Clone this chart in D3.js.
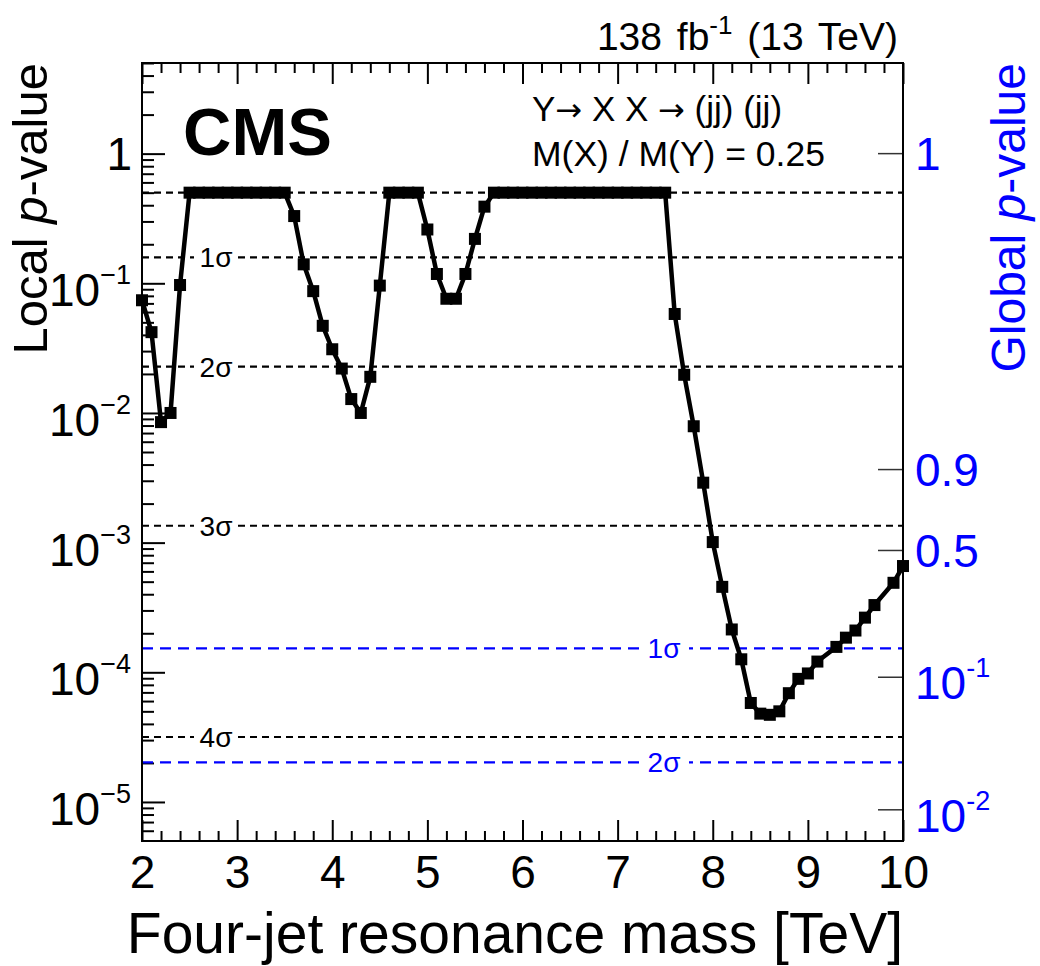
<!DOCTYPE html>
<html>
<head>
<meta charset="utf-8">
<script src="https://cdn.jsdelivr.net/npm/d3@7"></script>
<style>
  body { margin: 0; background: #fff; }
  svg { display: block; font-family: "Liberation Sans", Arial, Helvetica, sans-serif; }
</style>
</head>
<body>
<svg id="chart" width="1040" height="966"></svg>
<script>
// dados (massa em TeV, p-value local)
const mass = [2.0, 2.1, 2.2, 2.3, 2.4, 2.5, 2.6, 2.7, 2.8, 2.9, 3.0, 3.1, 3.2, 3.3, 3.4, 3.5,
  3.6, 3.7, 3.8, 3.9, 4.0, 4.1, 4.2, 4.3, 4.4, 4.5, 4.6, 4.7, 4.8, 4.9,
  5.0, 5.1, 5.2, 5.3, 5.4, 5.5, 5.6, 5.7, 5.8, 5.9, 6.0, 6.1, 6.2, 6.3, 6.4, 6.5, 6.6,
  6.7, 6.8, 6.9, 7.0, 7.1, 7.2, 7.3, 7.4, 7.5, 7.6, 7.7, 7.8, 7.9, 8.0, 8.1, 8.2, 8.3,
  8.4, 8.5, 8.6, 8.7, 8.8, 8.9, 9.0, 9.1, 9.3, 9.4, 9.5, 9.6, 9.7, 9.9, 10.0];
const localP = [0.074, 0.042, 0.0085, 0.010, 0.097, 0.5, 0.5, 0.5, 0.5, 0.5, 0.5, 0.5, 0.5, 0.5, 0.5, 0.5,
  0.33, 0.14, 0.087, 0.047, 0.031, 0.022, 0.0128, 0.0100, 0.019, 0.096, 0.5, 0.5, 0.5, 0.5,
  0.26, 0.118, 0.076, 0.076, 0.118, 0.22, 0.39, 0.5, 0.5, 0.5, 0.5, 0.5, 0.5, 0.5, 0.5, 0.5, 0.5,
  0.5, 0.5, 0.5, 0.5, 0.5, 0.5, 0.5, 0.5, 0.5, 0.058, 0.0197, 0.0079, 0.0029, 0.00101, 0.000456, 0.000214, 0.000126,
  5.8e-5, 4.8e-5, 4.7e-5, 5.0e-5, 6.9e-5, 8.9e-5, 9.8e-5, 1.21e-4, 1.57e-4, 1.85e-4, 2.1e-4, 2.64e-4, 3.3e-4, 4.9e-4, 6.6e-4];

// linhas de significância local (pretas) e global (azuis)
const localSigmaP = [0.5, 0.1587, 0.02275, 0.00135, 3.17e-5];
const localSigmaLabel = ["", "1σ", "2σ", "3σ", "4σ"];
const globalSigmaP = [1.53e-4, 2.02e-5];
const globalSigmaLabel = ["1σ", "2σ"];

// eixo da direita: p-value global, posicionado no p-value local equivalente
const globalTickAt = [1, 3.66e-3, 8.7e-4, 9.16e-5, 8.7e-6];
const globalTickBase = ["1", "0.9", "0.5", "10", "10"];
const globalTickExp = ["", "", "", "-1", "-2"];

// ticks
const xMajor = [2, 3, 4, 5, 6, 7, 8, 9, 10];
const yDecades = [0, -1, -2, -3, -4, -5];

// dimensões
const L = 142, T = 63, W = 761, H = 778;
const FONT_TICK = 46, FONT_EXP = 27;

const $svg = d3.select('#chart');

const x = d3.scaleLinear().domain([2, 10]).range([L, L + W]);
const y = d3.scaleLog().domain([5e-6, 5]).range([T + H, T]);

// minor ticks do eixo x (a cada 0.2)
const xMinor = d3.range(20, 101, 2).map(v => v / 10).filter(v => !xMajor.includes(v));
// minor ticks log
const yMinor = [];
yDecades.concat([-6]).forEach(e => {
  for (let k = 2; k <= 9; k++) {
    const v = k * Math.pow(10, e);
    if (v >= 5e-6 && v <= 5) yMinor.push(v);
  }
});

function cleanAxis(g) {
  g.select('.domain').remove();
  g.selectAll('line').attr('stroke', '#000').attr('stroke-width', 2);
}

// eixo de baixo
$svg.append('g')
  .attr('transform', `translate(0,${T + H})`)
  .call(d3.axisBottom(x).tickValues(xMajor).tickSize(-21).tickPadding(14).tickFormat(d3.format('d')))
  .call(cleanAxis)
  .call(g => g.selectAll('text').attr('font-size', FONT_TICK).attr('font-family', null).attr('fill', '#000'));
$svg.append('g')
  .attr('transform', `translate(0,${T + H})`)
  .call(d3.axisBottom(x).tickValues(xMinor).tickSize(-10).tickFormat(''))
  .call(cleanAxis);

// eixo de cima (só ticks)
$svg.append('g')
  .attr('transform', `translate(0,${T})`)
  .call(d3.axisTop(x).tickValues(xMajor).tickSize(-21).tickFormat(''))
  .call(cleanAxis);
$svg.append('g')
  .attr('transform', `translate(0,${T})`)
  .call(d3.axisTop(x).tickValues(xMinor).tickSize(-10).tickFormat(''))
  .call(cleanAxis);

// eixo da esquerda
$svg.append('g')
  .attr('transform', `translate(${L},0)`)
  .call(d3.axisLeft(y).tickValues(yDecades.map(e => Math.pow(10, e))).tickSize(-23).tickFormat(''))
  .call(cleanAxis);
$svg.append('g')
  .attr('transform', `translate(${L},0)`)
  .call(d3.axisLeft(y).tickValues(yMinor).tickSize(-12).tickFormat(''))
  .call(cleanAxis);

// rótulos do eixo da esquerda com expoente
yDecades.forEach(e => {
  const yy = y(Math.pow(10, e));
  if (e === 0) {
    $svg.append('text').attr('x', 132).attr('y', yy + 16.5)
      .attr('text-anchor', 'end').attr('font-size', FONT_TICK).text('1');
  } else {
    const t = $svg.append('text').attr('x', 131).attr('y', yy + 23)
      .attr('text-anchor', 'end').attr('font-size', FONT_TICK);
    t.append('tspan').text('10');
    t.append('tspan').attr('font-size', FONT_EXP).attr('dy', -22).text('\u2212' + (-e));
  }
});

// eixo da direita (global)
globalTickAt.forEach((p, i) => {
  const yy = y(p);
  $svg.append('line')
    .attr('x1', L + W - 25).attr('x2', L + W)
    .attr('y1', yy).attr('y2', yy)
    .attr('stroke', '#333').attr('stroke-width', 1.5);
  if (globalTickExp[i] === '') {
    $svg.append('text').attr('x', 915).attr('y', yy + 16.5)
      .attr('font-size', FONT_TICK).attr('fill', '#0000ff').text(globalTickBase[i]);
  } else {
    const t = $svg.append('text').attr('x', 915).attr('y', yy + 22)
      .attr('font-size', FONT_TICK).attr('fill', '#0000ff');
    t.append('tspan').text(globalTickBase[i]);
    t.append('tspan').attr('font-size', FONT_EXP).attr('dy', -22).text(globalTickExp[i]);
  }
});

// linhas tracejadas
function sigmaLines(ps, labels, color, dash, labelX, gapW) {
  ps.forEach((p, i) => {
    const yy = y(p);
    $svg.append('line')
      .attr('x1', L).attr('x2', L + W).attr('y1', yy).attr('y2', yy)
      .attr('stroke', color).attr('stroke-width', 2.2).attr('stroke-dasharray', dash);
    if (labels[i]) {
      $svg.append('rect')
        .attr('x', labelX - gapW / 2).attr('y', yy - 8).attr('width', gapW).attr('height', 16)
        .attr('fill', '#fff');
      $svg.append('text')
        .attr('x', labelX).attr('y', yy + 10)
        .attr('text-anchor', 'middle').attr('font-size', 28).attr('fill', color)
        .text(labels[i]);
    }
  });
}
sigmaLines(localSigmaP, localSigmaLabel, '#000', '7,5', 216, 44);
sigmaLines(globalSigmaP, globalSigmaLabel, '#0000ff', '11,7', 664, 50);

// moldura
$svg.append('rect')
  .attr('x', L).attr('y', T).attr('width', W).attr('height', H)
  .attr('fill', 'none').attr('stroke', '#000').attr('stroke-width', 2);

// curva + marcadores
const pts = mass.map((m, i) => ({ m, p: localP[i] }));
$svg.append('path')
  .datum(pts)
  .attr('fill', 'none').attr('stroke', '#000').attr('stroke-width', 4.5)
  .attr('stroke-linejoin', 'round')
  .attr('d', d3.line().x(d => x(d.m)).y(d => y(d.p)));
$svg.selectAll('rect.pt')
  .data(pts)
  .enter()
  .append('rect')
  .attr('class', 'pt')
  .attr('x', d => x(d.m) - 6).attr('y', d => y(d.p) - 6)
  .attr('width', 12).attr('height', 12)
  .attr('fill', '#000');

// textos
$svg.append('text').attr('x', 183).attr('y', 155)
  .attr('font-size', 67).attr('font-weight', 'bold').text('CMS');

const lumi = $svg.append('text').attr('x', 898).attr('y', 50)
  .attr('text-anchor', 'end').attr('font-size', 39).attr('word-spacing', 4);
lumi.append('tspan').text('138 fb');
lumi.append('tspan').attr('font-size', 26).attr('dy', -16).text('-1');
lumi.append('tspan').attr('dy', 16).text('\u00a0(13 TeV)');

const arrow = s => s.append('tspan').attr('font-family', 'DejaVu Sans').attr('font-size', 32).text('\u2192');
const proc = $svg.append('text').attr('x', 532).attr('y', 121).attr('font-size', 35);
proc.append('tspan').text('Y');
arrow(proc);
proc.append('tspan').text(' X X ');
arrow(proc);
proc.append('tspan').text(' (jj) (jj)');
$svg.append('text').attr('x', 532).attr('y', 166).attr('font-size', 35.5)
  .text('M(X) / M(Y) = 0.25');

// títulos dos eixos
const ly = $svg.append('text')
  .attr('transform', `translate(47,${T}) rotate(-90)`)
  .attr('text-anchor', 'end').attr('font-size', 49);
ly.append('tspan').text('Local ');
ly.append('tspan').attr('font-style', 'italic').text('p');
ly.append('tspan').text('-value');

const gy = $svg.append('text')
  .attr('transform', `translate(1025,${T}) rotate(-90)`)
  .attr('text-anchor', 'end').attr('font-size', 48).attr('fill', '#0000ff');
gy.append('tspan').text('Global ');
gy.append('tspan').attr('font-style', 'italic').text('p');
gy.append('tspan').text('-value');

$svg.append('text').attr('x', L + W).attr('y', 953)
  .attr('text-anchor', 'end').attr('font-size', 57)
  .text('Four-jet resonance mass [TeV]');
</script>
</body>
</html>
